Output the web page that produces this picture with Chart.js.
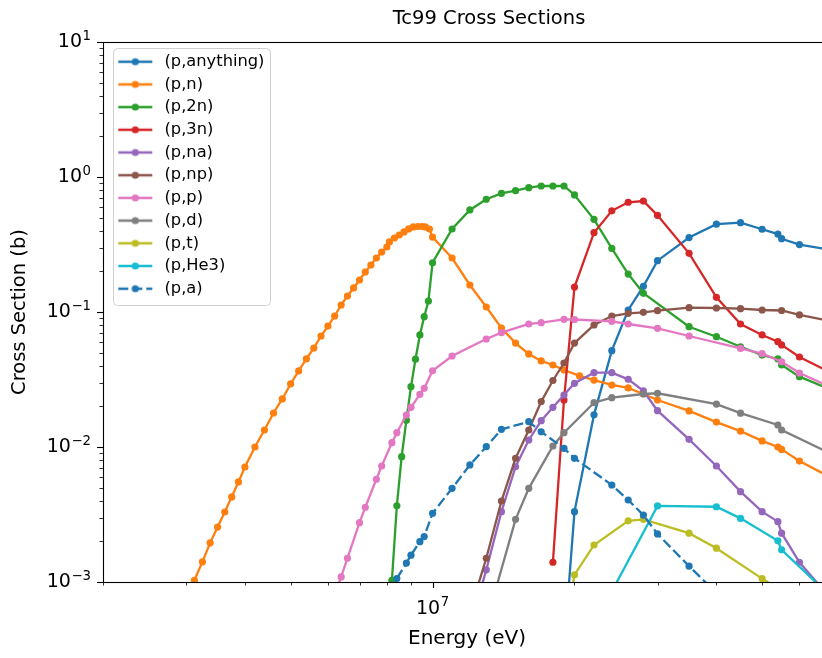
<!DOCTYPE html>
<html>
<head>
<meta charset="utf-8">
<script src="https://cdn.jsdelivr.net/npm/chart.js@4.4.1/dist/chart.umd.min.js"></script>
<style>
html, body { margin: 0; padding: 0; background: #ffffff; overflow: hidden; width: 822px; height: 658px; }
#wrap { position: absolute; left: 0; top: 0; width: 978px; height: 658px; }
canvas { display: block; }
</style>
</head>
<body>
<div id="wrap"><canvas id="c" width="978" height="658"></canvas></div>
<script>
// ---------------- data (energies in MeV, cross sections in barns) ----------------
const seriesLabels = ['(p,anything)', '(p,n)', '(p,2n)', '(p,3n)', '(p,na)', '(p,np)', '(p,p)', '(p,d)', '(p,t)', '(p,He3)', '(p,a)'];

const eAnything  = [19, 20, 22, 24, 26, 28, 30, 35, 40, 45, 50, 54, 55, 60, 70];
const xsAnything = [0.00032, 0.00332, 0.0173, 0.0517, 0.1035, 0.155, 0.240, 0.356, 0.447, 0.459, 0.410, 0.378, 0.349, 0.316, 0.288];

const eN  = [3.0, 3.125, 3.25, 3.375, 3.5, 3.625, 3.75, 3.875, 4.0, 4.2, 4.4, 4.6, 4.8, 5.0, 5.2, 5.4, 5.6, 5.8, 6.0, 6.2, 6.4, 6.6, 6.8, 7.0, 7.2, 7.4, 7.6, 7.8, 8.0, 8.1, 8.3, 8.5, 8.7, 8.9, 9.1, 9.3, 9.5, 9.65, 9.85, 10.0, 11, 12, 13, 14, 15, 16, 17, 18, 19, 20.5, 22, 24, 26, 28, 30, 35, 40, 45, 50, 54, 55, 60, 70];
const xsN = [0.00075, 0.00103, 0.00141, 0.00195, 0.00255, 0.0033, 0.00427, 0.00551, 0.00711, 0.0100, 0.01336, 0.01786, 0.0227, 0.0293, 0.0366, 0.0449, 0.0541, 0.0664, 0.0787, 0.0934, 0.1127, 0.1314, 0.1507, 0.1726, 0.1979, 0.223, 0.2512, 0.2783, 0.303, 0.3302, 0.3533, 0.3718, 0.3917, 0.4121, 0.4264, 0.430, 0.430, 0.4264, 0.412, 0.359, 0.2512, 0.1585, 0.1089, 0.0761, 0.0589, 0.0489, 0.0434, 0.0405, 0.0372, 0.0336, 0.0313, 0.0288, 0.0274, 0.0247, 0.0223, 0.0185, 0.0153, 0.0131, 0.0111, 0.0100, 0.0096, 0.00787, 0.00593];

const e2N  = [8.0, 8.2, 8.4, 8.6, 8.8, 9.0, 9.2, 9.4, 9.6, 9.8, 10, 11, 12, 13, 14, 15, 16, 17, 18, 19, 20, 22, 24, 26, 28, 35, 40, 45, 50, 54, 55, 60, 70];
const xs2N = [0.00026, 0.00103, 0.00367, 0.00848, 0.0158, 0.0280, 0.0447, 0.0676, 0.0923, 0.1206, 0.2317, 0.412, 0.570, 0.684, 0.757, 0.792, 0.833, 0.858, 0.858, 0.858, 0.736, 0.486, 0.296, 0.191, 0.1376, 0.0778, 0.0656, 0.0553, 0.0480, 0.0449, 0.0405, 0.0332, 0.0266];

const e3N  = [18, 19, 20, 22, 24, 26, 28, 30, 35, 40, 45, 50, 54, 55, 60, 70];
const xs3N = [0.00140, 0.0223, 0.1532, 0.3867, 0.562, 0.650, 0.664, 0.520, 0.272, 0.1285, 0.0815, 0.0676, 0.0603, 0.0570, 0.0464, 0.0355];

const eNA  = [12, 13, 14, 15, 16, 17, 18, 19, 20, 22, 24, 26, 28, 30, 35, 40, 45, 50, 54, 55, 60, 70];
const xsNA = [0.00046, 0.00123, 0.00332, 0.00714, 0.01127, 0.01567, 0.01968, 0.02427, 0.02965, 0.0355, 0.0355, 0.0317, 0.0261, 0.01858, 0.0114, 0.00723, 0.00467, 0.00332, 0.0028, 0.0023, 0.0014, 0.00075];

const eNP  = [12, 13, 14, 15, 16, 17, 18, 19, 20, 22, 24, 26, 28, 30, 35, 40, 45, 50, 55, 60, 70];
const xsNP = [0.0006, 0.0015, 0.00398, 0.00825, 0.01336, 0.0217, 0.0311, 0.0419, 0.0589, 0.0801, 0.0934, 0.0978, 0.0995, 0.1022, 0.1076, 0.1071, 0.1058, 0.1035, 0.1026, 0.0951, 0.0855];

const eP  = [6.2, 6.4, 6.6, 7.0, 7.2, 7.6, 7.8, 8.2, 8.4, 8.8, 9.0, 9.4, 9.6, 10, 11, 13, 14, 16, 17, 19, 20, 24, 26, 30, 35, 45, 50, 55, 60, 70];
const xsP = [0.0008, 0.00109, 0.0015, 0.00275, 0.00358, 0.00577, 0.00723, 0.01076, 0.01276, 0.01726, 0.01968, 0.02455, 0.02722, 0.0367, 0.0472, 0.0631, 0.0703, 0.0815, 0.0834, 0.0883, 0.088, 0.0853, 0.0815, 0.0757, 0.0664, 0.0537, 0.0491, 0.0428, 0.0353, 0.0277];

const eD  = [13, 15, 16, 18, 19, 22, 24, 28, 30, 40, 45, 54, 55, 70];
const xsD = [0.0005, 0.00291, 0.00494, 0.01017, 0.01276, 0.0213, 0.0232, 0.0247, 0.0250, 0.0208, 0.0178, 0.01455, 0.01336, 0.0089];

const eT  = [19, 20, 22, 26, 28, 35, 40, 50, 60];
const xsT = [0.0004, 0.00113, 0.00188, 0.00284, 0.00291, 0.0023, 0.00178, 0.00106, 0.00071];

const eHe3  = [24, 30, 40, 45, 54, 55, 70];
const xsHe3 = [0.00085, 0.00366, 0.00361, 0.00296, 0.00202, 0.00173, 0.00078];

const eA  = [8.2, 8.4, 8.8, 9.0, 9.4, 9.6, 10, 11, 12, 13, 14, 16, 17, 19, 20, 24, 26, 28, 30, 35, 40];
const xsA = [0.00085, 0.00106, 0.00138, 0.00158, 0.00199, 0.00217, 0.00323, 0.00494, 0.00736, 0.01005, 0.01352, 0.01539, 0.01297, 0.00978, 0.00825, 0.00523, 0.00405, 0.00313, 0.00227, 0.00131, 0.00083];

const seriesEnergies = [eAnything, eN, e2N, e3N, eNA, eNP, eP, eD, eT, eHe3, eA];
const seriesValues   = [xsAnything, xsN, xs2N, xs3N, xsNA, xsNP, xsP, xsD, xsT, xsHe3, xsA];

// tick values and labels (base 10 with exponent)
const xMinorTicks = [2e6, 3e6, 4e6, 5e6, 6e6, 7e6, 8e6, 9e6, 2e7, 3e7, 4e7, 5e7, 6e7, 7e7];
const xMajorTicks = [1e7];
const xMajorExponents = ['7'];
const yMajorTicks = [1e-3, 1e-2, 1e-1, 1, 10];
const yMajorExponents = ['\u22123', '\u22122', '\u22121', '0', '1'];
const tickBase = '10';
const yMinorMultipliers = [2, 3, 4, 5, 6, 7, 8, 9];

// ---------------- styles / layout ----------------
const colors = ['#1f77b4', '#ff7f0e', '#2ca02c', '#d62728', '#9467bd', '#8c564b', '#e377c2', '#7f7f7f', '#bcbd22', '#17becf', '#1f77b4'];
const dashedIndex = 10;
const FONT = "'DejaVu Sans', 'Liberation Sans', sans-serif";
const CANVAS_W = 978, CANVAS_H = 658;
const AREA = { left: 103, right: 831, top: 42, bottom: 582 };
const LINE_W = 2.3, MARK_R = 3.6, DASH = [10, 4];
const LEG_FS = 16.3, LEG_PAD = 6.4, LEG_W = 42;
const LEG_LEFT = 107.9, LEG_TOP = 47.15;
const TICK_FS = 19, Y_LABEL_GAP = 12, X_LABEL_BASELINE = 31.5;

Chart.defaults.font.family = FONT;
Chart.defaults.color = '#000';

function makeIcon(color, dashed) {
  const c = document.createElement('canvas');
  c.width = LEG_W; c.height = 12;
  const g = c.getContext('2d');
  g.strokeStyle = color; g.lineWidth = LINE_W;
  if (dashed) g.setLineDash(DASH);
  g.beginPath(); g.moveTo(LEG_W / 2 - 17, 6); g.lineTo(LEG_W / 2 + 17, 6); g.stroke();
  g.setLineDash([]);
  g.fillStyle = color; g.beginPath(); g.arc(LEG_W / 2, 6, MARK_R, 0, Math.PI * 2); g.fill();
  return c;
}
const icons = colors.map((c, i) => makeIcon(c, i === dashedIndex));

const datasets = seriesLabels.map((label, i) => ({
  label: label,
  data: seriesEnergies[i].map((e, k) => ({ x: e * 1e6, y: seriesValues[i][k] })),
  borderColor: colors[i],
  backgroundColor: colors[i],
  borderWidth: LINE_W,
  borderDash: i === dashedIndex ? DASH : [],
  pointRadius: MARK_R,
  pointHoverRadius: MARK_R,
  pointBorderWidth: 0,
  pointBackgroundColor: colors[i],
  tension: 0,
  fill: false,
  clip: 0,
  order: seriesLabels.length - i
}));

const layoutFixPlugin = {
  id: 'layoutFix',
  afterLayout(chart) {
    const lg = chart.legend;
    const w = lg.right - lg.left, h = lg.bottom - lg.top;
    lg.left = LEG_LEFT; lg.right = LEG_LEFT + w;
    lg.top = LEG_TOP; lg.bottom = LEG_TOP + h;
    const tb = chart.titleBlock;
    if (tb) { tb.left = 0; tb.right = CANVAS_W; tb.width = CANVAS_W; }
  },
  beforeDraw(chart) {
    const lg = chart.legend;
    const ctx = chart.ctx;
    ctx.save();
    ctx.font = LEG_FS + 'px ' + FONT;
    let maxW = 0;
    seriesLabels.forEach(t => { maxW = Math.max(maxW, ctx.measureText(t).width); });
    const x0 = lg.left + LEG_PAD;
    const firstC = lg.top + LEG_PAD + LEG_FS / 2;
    const lastC = firstC + (seriesLabels.length - 1) * (LEG_FS + LEG_PAD);
    const l = x0 - 1, r = x0 + LEG_W + LEG_FS / 2 + maxW + 6;
    const t = firstC - 13.5, b = lastC + 16;
    ctx.beginPath();
    ctx.roundRect(Math.round(l) + 0.5, Math.round(t) + 0.5, Math.round(r - l), Math.round(b - t), 4);
    ctx.fillStyle = 'rgba(255,255,255,0.8)';
    ctx.fill();
    ctx.strokeStyle = '#d0d0d0';
    ctx.lineWidth = 1;
    ctx.stroke();
    ctx.restore();
  }
};

function drawPowerLabel(ctx, exp, x, baseline, align) {
  const F = TICK_FS, E = TICK_FS * 0.7;
  ctx.font = F + 'px ' + FONT;
  const wb = ctx.measureText(tickBase).width;
  ctx.font = E + 'px ' + FONT;
  const we = ctx.measureText(exp).width;
  const total = wb + 0.5 + we;
  const x0 = align === 'right' ? x - total : x - total / 2;
  ctx.font = F + 'px ' + FONT;
  ctx.fillText(tickBase, x0, baseline);
  ctx.font = E + 'px ' + FONT;
  ctx.fillText(exp, x0 + wb + 0.5, baseline - 0.38 * F);
}

const frameTicksPlugin = {
  id: 'frameTicks',
  afterDatasetsDraw(chart) {
    const { ctx, chartArea: a } = chart;
    const xs = chart.scales.x, ys = chart.scales.y;
    ctx.save();
    ctx.strokeStyle = '#000';
    xs.ticks.forEach(t => {
      const p = Math.round(xs.getPixelForValue(t.value)) + 0.5;
      if (p < a.left - 0.5 || p > a.right + 0.5) return;
      ctx.lineWidth = t.major ? 1.1 : 0.8;
      ctx.beginPath(); ctx.moveTo(p, a.bottom); ctx.lineTo(p, a.bottom + (t.major ? 6 : 3.5)); ctx.stroke();
    });
    ys.ticks.forEach(t => {
      const p = Math.round(ys.getPixelForValue(t.value)) + 0.5;
      ctx.lineWidth = t.major ? 1.1 : 0.8;
      ctx.beginPath(); ctx.moveTo(a.left, p); ctx.lineTo(a.left - (t.major ? 6 : 3.5), p); ctx.stroke();
    });
    ctx.lineWidth = 1.1;
    ctx.strokeRect(Math.round(a.left) + 0.5, Math.round(a.top) + 0.5, Math.round(a.right - a.left), Math.round(a.bottom - a.top));

    // tick labels: 10 with superscript exponent
    ctx.fillStyle = '#000';
    ctx.textBaseline = 'alphabetic';
    ctx.textAlign = 'left';
    yMajorTicks.forEach((v, k) => {
      const p = ys.getPixelForValue(v);
      drawPowerLabel(ctx, yMajorExponents[k], a.left - Y_LABEL_GAP, p + 0.26 * TICK_FS, 'right');
    });
    xMajorTicks.forEach((v, k) => {
      const p = xs.getPixelForValue(v);
      drawPowerLabel(ctx, xMajorExponents[k], p, a.bottom + X_LABEL_BASELINE, 'center');
    });
    ctx.restore();
  }
};

new Chart(document.getElementById('c'), {
  type: 'line',
  data: { datasets: datasets },
  plugins: [layoutFixPlugin, frameTicksPlugin],
  options: {
    responsive: false,
    animation: false,
    devicePixelRatio: 1,
    events: [],
    layout: { padding: { left: 0, top: 0, right: CANVAS_W - AREA.right, bottom: 0 } },
    scales: {
      x: {
        type: 'logarithmic',
        min: 2e6, max: 7e7,
        afterBuildTicks: (scale) => {
          const vals = xMinorTicks.map(v => ({ value: v, major: false }))
            .concat(xMajorTicks.map(v => ({ value: v, major: true })))
            .sort((p, q) => p.value - q.value);
          scale.ticks = vals;
        },
        afterFit: (scale) => { scale.height = CANVAS_H - AREA.bottom; },
        grid: { display: false, drawTicks: false },
        border: { display: false },
        ticks: { display: false, autoSkip: false, maxRotation: 0 },
        title: { display: true, text: 'Energy (eV)', font: { size: 20 }, color: '#000', padding: { top: 0, bottom: 7 } }
      },
      y: {
        type: 'logarithmic',
        min: 1e-3, max: 10,
        afterBuildTicks: (scale) => {
          const vals = [];
          yMajorTicks.forEach((v, k) => {
            vals.push({ value: v, major: true });
            if (k < yMajorTicks.length - 1) yMinorMultipliers.forEach(m => vals.push({ value: v * m, major: false }));
          });
          scale.ticks = vals.sort((p, q) => p.value - q.value);
        },
        afterFit: (scale) => { scale.width = AREA.left; },
        grid: { display: false, drawTicks: false },
        border: { display: false },
        ticks: { display: false, autoSkip: false },
        title: { display: true, text: 'Cross Section (b)', font: { size: 19.5 }, color: '#000', padding: { top: 8, bottom: 0 } }
      }
    },
    plugins: {
      title: {
        display: true, text: 'Tc99 Cross Sections',
        font: { size: 19.5, weight: 'normal' }, color: '#000',
        padding: { top: 7.5, bottom: 11.1 }
      },
      legend: {
        display: true,
        position: 'chartArea',
        align: 'start',
        labels: {
          usePointStyle: true,
          pointStyleWidth: LEG_W,
          padding: LEG_PAD,
          font: { size: LEG_FS },
          color: '#000',
          generateLabels: (chart) => chart.data.datasets.map((ds, i) => ({
            text: ds.label, pointStyle: icons[i], datasetIndex: i,
            fillStyle: colors[i], strokeStyle: colors[i], lineWidth: 0, hidden: false, fontColor: '#000'
          }))
        }
      },
      tooltip: { enabled: false }
    }
  }
});
</script>
</body>
</html>
